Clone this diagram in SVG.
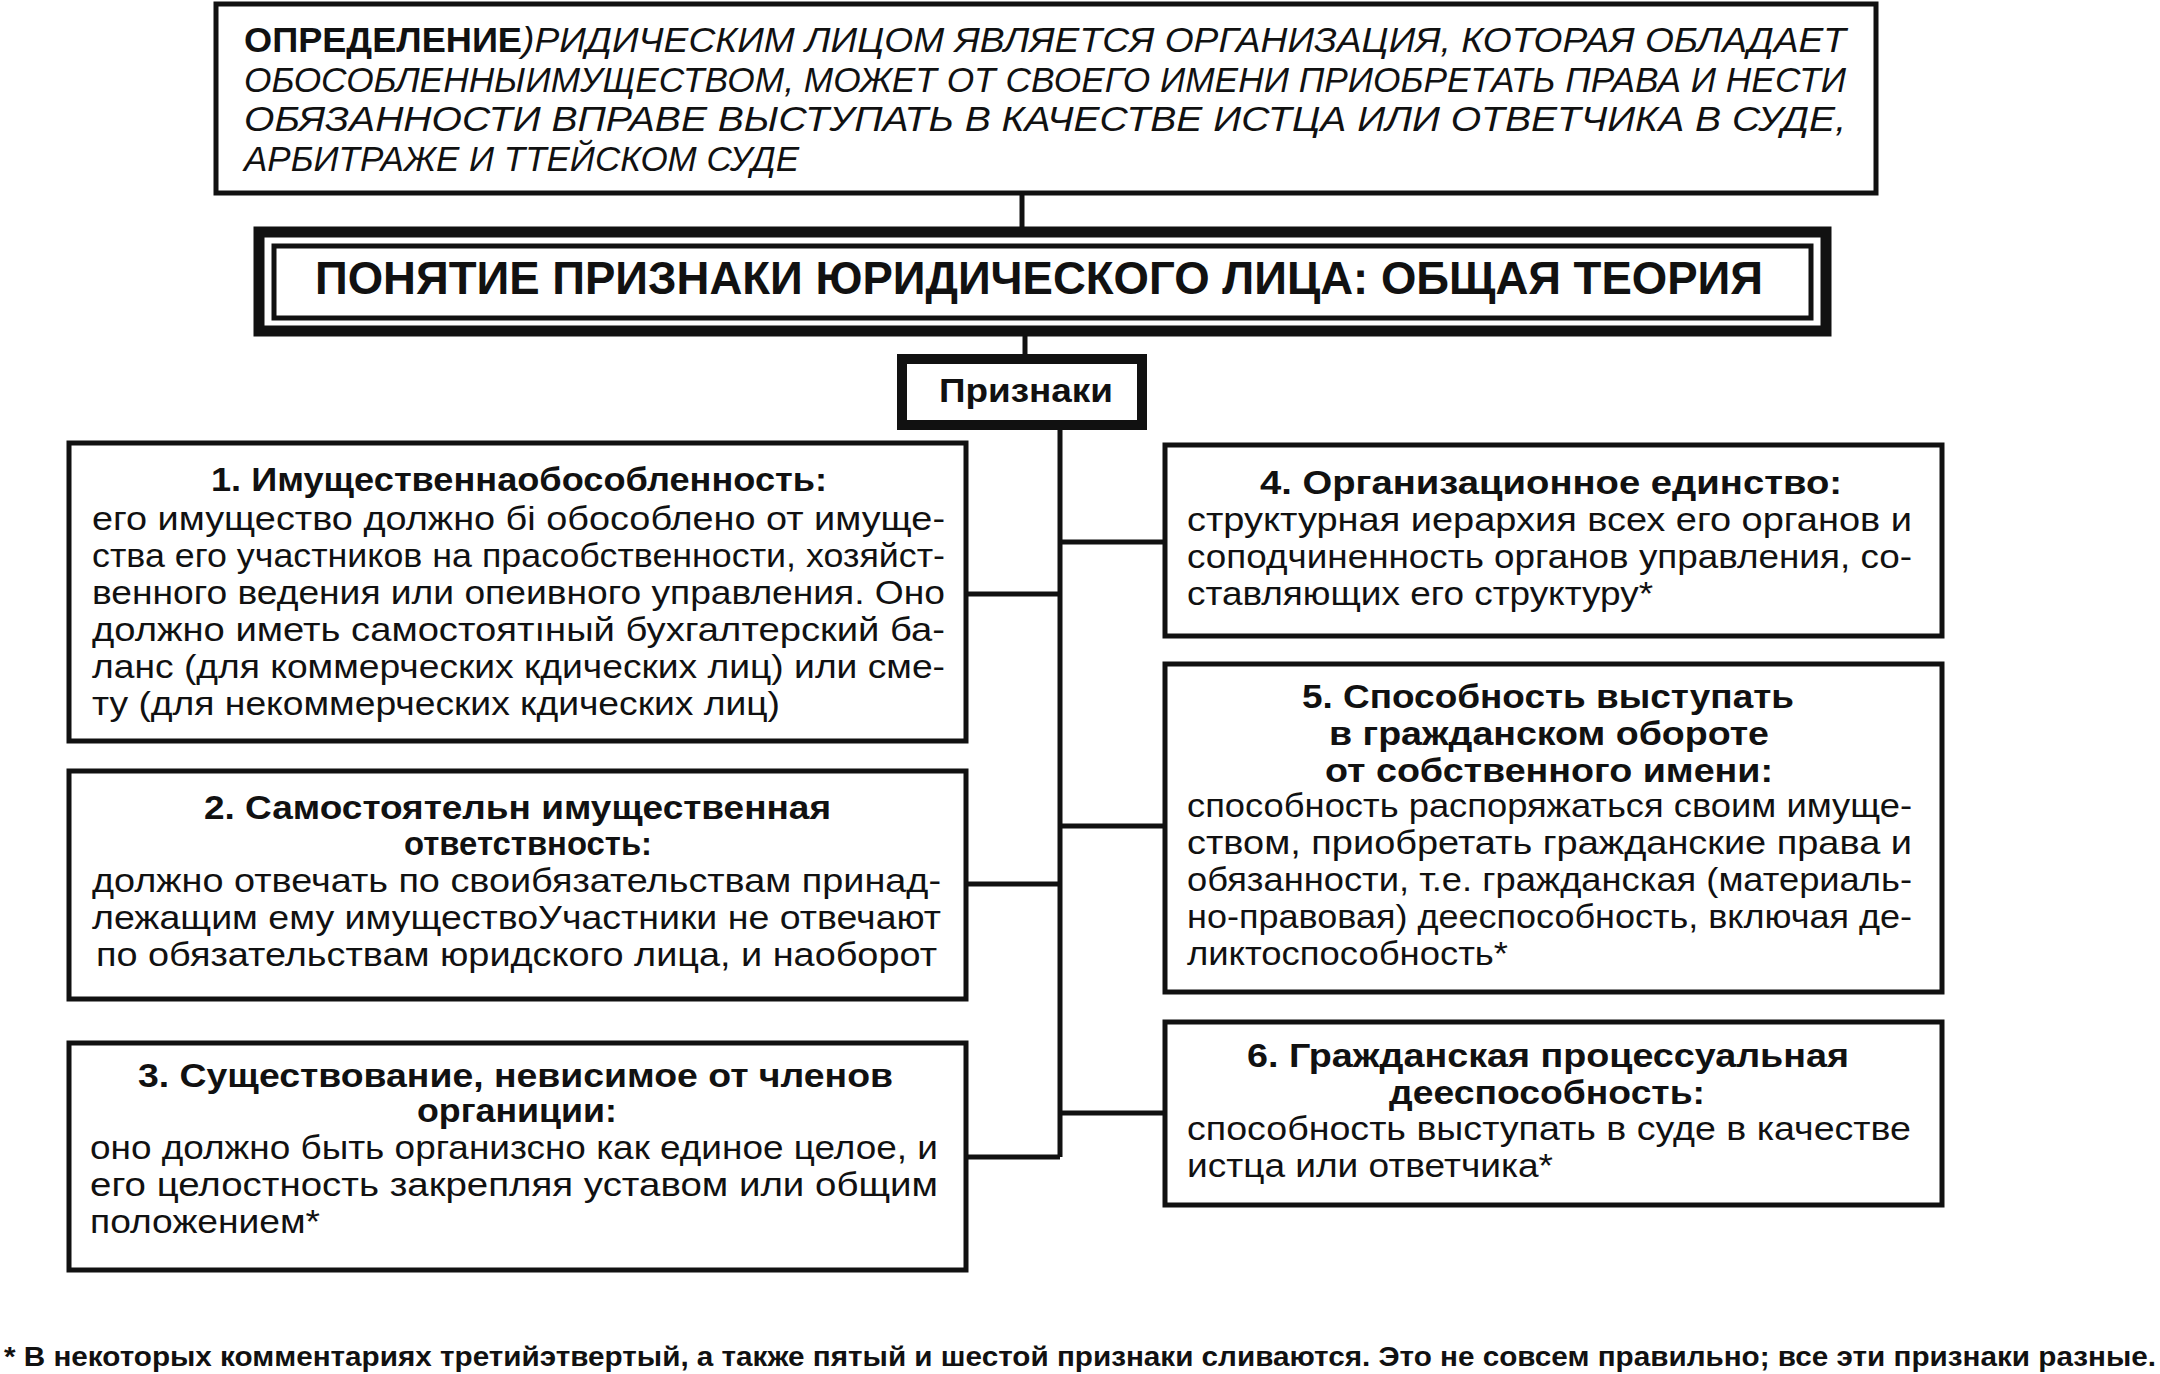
<svg xmlns="http://www.w3.org/2000/svg" width="2160" height="1374" viewBox="0 0 2160 1374">
<style>
.box{fill:#fff;stroke:#111;stroke-width:5}
.thick{fill:#fff;stroke:#111;stroke-width:11}
.ln{fill:none;stroke:#111;stroke-width:5}
text{font-family:"Liberation Sans",Arial,sans-serif;fill:#111}
.def{font-size:35px;font-style:italic}
.defb{font-size:35px;font-weight:bold}
.hd{font-size:34px;font-weight:bold}
.bd{font-size:34px}
.fn{font-size:27px;font-weight:bold}
</style>
<rect width="2160" height="1374" fill="#fff"/>
<g id="connectors">
<path class="ln" d="M1022 193V232"/>
<path class="ln" d="M1025 331V359"/>
<path class="ln" d="M1060 425V1157"/>
<path class="ln" d="M966 594H1060"/>
<path class="ln" d="M966 884H1060"/>
<path class="ln" d="M966 1157H1060"/>
<path class="ln" d="M1060 542H1165"/>
<path class="ln" d="M1060 826H1165"/>
<path class="ln" d="M1060 1113H1165"/>
</g>
<g id="definition">
<rect class="box" x="216" y="4" width="1660" height="189"/>
<text class="defb" x="244" y="52" textLength="278" lengthAdjust="spacingAndGlyphs">ОПРЕДЕЛЕНИЕ</text>
<text class="def" x="522" y="52" textLength="1324" lengthAdjust="spacingAndGlyphs">)РИДИЧЕСКИМ ЛИЦОМ ЯВЛЯЕТСЯ ОРГАНИЗАЦИЯ, КОТОРАЯ ОБЛАДАЕТ</text>
<text class="def" x="244" y="92" textLength="1602" lengthAdjust="spacingAndGlyphs">ОБОСОБЛЕННЫИМУЩЕСТВОМ, МОЖЕТ ОТ СВОЕГО ИМЕНИ ПРИОБРЕТАТЬ ПРАВА И НЕСТИ</text>
<text class="def" x="244" y="131" textLength="1602" lengthAdjust="spacingAndGlyphs">ОБЯЗАННОСТИ ВПРАВЕ ВЫСТУПАТЬ В КАЧЕСТВЕ ИСТЦА ИЛИ ОТВЕТЧИКА В СУДЕ,</text>
<text class="def" x="244" y="171" textLength="555" lengthAdjust="spacingAndGlyphs">АРБИТРАЖЕ И ТТЕЙСКОМ СУДЕ</text>
</g>
<g id="title">
<rect class="thick" x="259" y="232" width="1567" height="99"/>
<rect class="box" x="274" y="246" width="1537" height="72"/>
<text x="315" y="294" font-size="47" font-weight="bold" textLength="1448" lengthAdjust="spacingAndGlyphs">ПОНЯТИЕ ПРИЗНАКИ ЮРИДИЧЕСКОГО ЛИЦА: ОБЩАЯ ТЕОРИЯ</text>
</g>
<g id="priznaki">
<rect class="box" style="stroke-width:10" x="902" y="359" width="240" height="66"/>
<text x="939" y="402" font-size="34" font-weight="bold" textLength="174" lengthAdjust="spacingAndGlyphs">Признаки</text>
</g>
<g id="sign1">
<rect class="box" x="69" y="443" width="897" height="298"/>
<text class="hd" x="211" y="491" textLength="616" lengthAdjust="spacingAndGlyphs">1. Имущественнаобособленность:</text>
<text class="bd" x="92" y="530" textLength="853" lengthAdjust="spacingAndGlyphs">его имущество должно бі обособлено от имуще-</text>
<text class="bd" x="92" y="567" textLength="853" lengthAdjust="spacingAndGlyphs">ства его участников на прасобственности, хозяйст-</text>
<text class="bd" x="92" y="604" textLength="853" lengthAdjust="spacingAndGlyphs">венного ведения или опеивного управления. Оно</text>
<text class="bd" x="92" y="641" textLength="853" lengthAdjust="spacingAndGlyphs">должно иметь самостоятıный бухгалтерский ба-</text>
<text class="bd" x="92" y="678" textLength="853" lengthAdjust="spacingAndGlyphs">ланс (для коммерческих кдических лиц) или сме-</text>
<text class="bd" x="92" y="715" textLength="688" lengthAdjust="spacingAndGlyphs">ту (для некоммерческих кдических лиц)</text>
</g>
<g id="sign2">
<rect class="box" x="69" y="771" width="897" height="228"/>
<text class="hd" x="204" y="819" textLength="627" lengthAdjust="spacingAndGlyphs">2. Самостоятельн имущественная</text>
<text class="hd" x="404" y="855" textLength="248" lengthAdjust="spacingAndGlyphs">ответствность:</text>
<text class="bd" x="92" y="892" textLength="849" lengthAdjust="spacingAndGlyphs">должно отвечать по своибязательствам принад-</text>
<text class="bd" x="92" y="929" textLength="849" lengthAdjust="spacingAndGlyphs">лежащим ему имуществоУчастники не отвечают</text>
<text class="bd" x="96" y="966" textLength="841" lengthAdjust="spacingAndGlyphs">по обязательствам юридского лица, и наоборот</text>
</g>
<g id="sign3">
<rect class="box" x="69" y="1043" width="897" height="227"/>
<text class="hd" x="138" y="1087" textLength="755" lengthAdjust="spacingAndGlyphs">3. Существование, невисимое от членов</text>
<text class="hd" x="417" y="1122" textLength="200" lengthAdjust="spacingAndGlyphs">органиции:</text>
<text class="bd" x="90" y="1159" textLength="848" lengthAdjust="spacingAndGlyphs">оно должно быть организсно как единое целое, и</text>
<text class="bd" x="90" y="1196" textLength="848" lengthAdjust="spacingAndGlyphs">его целостность закрепляя уставом или общим</text>
<text class="bd" x="90" y="1233" textLength="230" lengthAdjust="spacingAndGlyphs">положением*</text>
</g>
<g id="sign4">
<rect class="box" x="1165" y="445" width="777" height="191"/>
<text class="hd" x="1260" y="494" textLength="582" lengthAdjust="spacingAndGlyphs">4. Организационное единство:</text>
<text class="bd" x="1187" y="531" textLength="725" lengthAdjust="spacingAndGlyphs">структурная иерархия всех его органов и</text>
<text class="bd" x="1187" y="568" textLength="725" lengthAdjust="spacingAndGlyphs">соподчиненность органов управления, со-</text>
<text class="bd" x="1187" y="605" textLength="466" lengthAdjust="spacingAndGlyphs">ставляющих его структуру*</text>
</g>
<g id="sign5">
<rect class="box" x="1165" y="664" width="777" height="328"/>
<text class="hd" x="1302" y="708" textLength="492" lengthAdjust="spacingAndGlyphs">5. Способность выступать</text>
<text class="hd" x="1329" y="745" textLength="440" lengthAdjust="spacingAndGlyphs">в гражданском обороте</text>
<text class="hd" x="1325" y="782" textLength="448" lengthAdjust="spacingAndGlyphs">от собственного имени:</text>
<text class="bd" x="1187" y="817" textLength="725" lengthAdjust="spacingAndGlyphs">способность распоряжаться своим имуще-</text>
<text class="bd" x="1187" y="854" textLength="725" lengthAdjust="spacingAndGlyphs">ством, приобретать гражданские права и</text>
<text class="bd" x="1187" y="891" textLength="725" lengthAdjust="spacingAndGlyphs">обязанности, т.е. гражданская (материаль-</text>
<text class="bd" x="1187" y="928" textLength="725" lengthAdjust="spacingAndGlyphs">но-правовая) дееспособность, включая де-</text>
<text class="bd" x="1187" y="965" textLength="321" lengthAdjust="spacingAndGlyphs">ликтоспособность*</text>
</g>
<g id="sign6">
<rect class="box" x="1165" y="1022" width="777" height="183"/>
<text class="hd" x="1247" y="1067" textLength="602" lengthAdjust="spacingAndGlyphs">6. Гражданская процессуальная</text>
<text class="hd" x="1389" y="1104" textLength="316" lengthAdjust="spacingAndGlyphs">дееспособность:</text>
<text class="bd" x="1187" y="1140" textLength="724" lengthAdjust="spacingAndGlyphs">способность выступать в суде в качестве</text>
<text class="bd" x="1187" y="1177" textLength="366" lengthAdjust="spacingAndGlyphs">истца или ответчика*</text>
</g>
<g id="footnote">
<text class="fn" x="4" y="1366" textLength="2152" lengthAdjust="spacingAndGlyphs">* В некоторых комментариях третийэтвертый, а также пятый и шестой признаки сливаются. Это не совсем правильно; все эти признаки разные.</text>
</g>
</svg>
